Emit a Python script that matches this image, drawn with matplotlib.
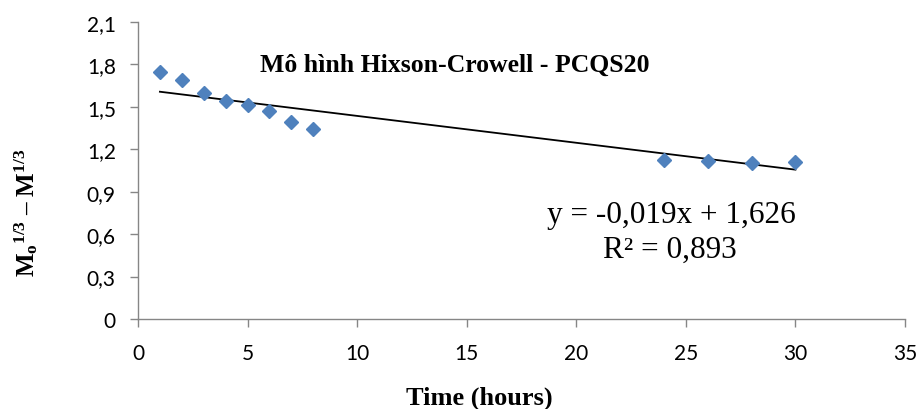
import numpy as np
import matplotlib
matplotlib.use("Agg")
import matplotlib.pyplot as plt
from matplotlib.ticker import FuncFormatter, MultipleLocator

# Data
time_hours = [1, 2, 3, 4, 5, 6, 7, 8, 24, 26, 28, 30]
values = [1.745, 1.692, 1.598, 1.544, 1.516, 1.469, 1.391, 1.344, 1.127, 1.117, 1.103, 1.112]
title_text = "Mô hình Hixson-Crowell - PCQS20"
equation_text = "y = -0,019x + 1,626"
r2_text = "R² = 0,893"
xlabel_text = "Time (hours)"
slope, intercept = -0.019, 1.626

plt.rcParams["mathtext.fontset"] = "custom"
plt.rcParams["mathtext.rm"] = "Liberation Serif"
plt.rcParams["mathtext.bf"] = "Liberation Serif:bold"
plt.rcParams["mathtext.it"] = "Liberation Serif:italic"

fig = plt.figure(figsize=(9.16, 4.10), dpi=100)
ax = fig.add_axes([138/916, 1-320/410, (905-138)/916, (320-23)/410])

ax.plot(time_hours, values, linestyle="none", marker="D", markersize=7,
        color="#4F81BD", markeredgecolor="#4F81BD", zorder=3)
xfit = np.array([min(time_hours), max(time_hours)])
ax.plot(xfit, slope*xfit + intercept, color="black", linewidth=1.3, zorder=2)

ax.set_xlim(0, 35)
ax.set_ylim(0, 2.1)
ax.xaxis.set_major_locator(MultipleLocator(5))
ax.yaxis.set_major_locator(MultipleLocator(0.3))
ax.yaxis.set_major_formatter(FuncFormatter(lambda v, p: ("%.1f" % v).replace(".", ",") if abs(v) > 1e-9 else "0"))
ax.xaxis.set_major_formatter(FuncFormatter(lambda v, p: "%d" % round(v)))

for s in ["top", "right"]:
    ax.spines[s].set_visible(False)
for s in ["left", "bottom"]:
    ax.spines[s].set_color("#868686")
    ax.spines[s].set_linewidth(1.0)
ax.tick_params(axis="both", direction="out", length=6, width=1.0, color="#868686",
               labelsize=15, labelcolor="black")
ax.tick_params(axis="y", pad=10)
ax.tick_params(axis="x", pad=11)
for lab in ax.get_xticklabels() + ax.get_yticklabels():
    lab.set_fontfamily("Lato")

serif = "Liberation Serif"
fig.text(455/916, 1-72/410, title_text, ha="center", va="baseline",
         fontsize=18.5, fontweight="bold", family=serif)
fig.text(671/916, 1-223/410, equation_text, ha="center", va="baseline", fontsize=22.5, family=serif)
fig.text(670/916, 1-258/410, r2_text, ha="center", va="baseline", fontsize=22.5, family=serif)

fig.text(479/916, 1-405/410, xlabel_text, ha="center", va="baseline",
         fontsize=19, fontweight="bold", family=serif)
fig.text(26/916, 1-213/410, r"$\mathbf{M_o{}^{1/3}\ \endash\ M^{1/3}}$",
         rotation=90, ha="center", va="center", fontsize=18)

fig.savefig("out.png", dpi=100)
